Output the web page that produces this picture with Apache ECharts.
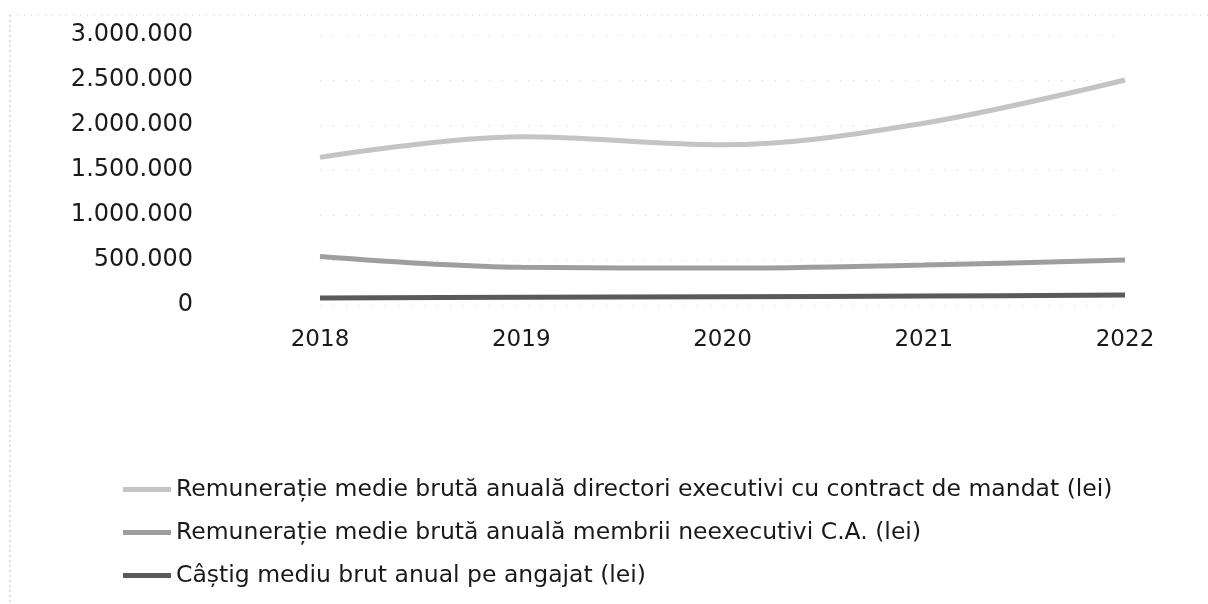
<!DOCTYPE html>
<html>
<head>
<meta charset="utf-8">
<script src="https://cdn.jsdelivr.net/npm/echarts@6/dist/echarts.min.js"></script>
<style>
  html, body { margin: 0; padding: 0; background: #fff; }
  #chart { width: 1208px; height: 604px; }
</style>
</head>
<body>
<div id="chart"></div>
<script>
// date
const years = ['2018', '2019', '2020', '2021', '2022'];
const directori = [1640000, 1870000, 1780000, 2020000, 2500000];
const membriCA = [540000, 420000, 410000, 445000, 500000];
const angajat = [78000, 85000, 92000, 100000, 110000];
const seriesNames = [
  'Remunerație medie brută anuală directori executivi cu contract de mandat (lei)',
  'Remunerație medie brută anuală membrii neexecutivi C.A. (lei)',
  'Câștig mediu brut anual pe angajat (lei)'
];
const seriesColors = ['#c4c4c4', '#9e9e9e', '#5a5a5a'];

const chart = echarts.init(document.getElementById('chart'));

// formatare cu punct la mii, ca in original
function fmt(v) {
  return String(v).replace(/\B(?=(\d{3})+(?!\d))/g, '.');
}

function mkLine(name, data, color) {
  return {
    name: name,
    type: 'line',
    data: data,
    smooth: 0.35,
    symbol: 'none',
    lineStyle: { color: color, width: 5 },
    itemStyle: { color: color }
  };
}

chart.setOption({
  backgroundColor: '#ffffff',
  animation: false,
  textStyle: { fontFamily: 'DejaVu Sans', color: '#1a1a1a' },
  grid: { left: 320, right: 83, top: 35, bottom: 299 },
  xAxis: {
    type: 'category',
    data: years,
    boundaryGap: false,
    axisLine: { show: false },
    axisTick: { show: false },
    axisLabel: { fontSize: 23, color: '#1a1a1a', margin: 24 }
  },
  yAxis: {
    type: 'value',
    min: 0,
    max: 3000000,
    interval: 500000,
    axisLine: { show: false },
    axisTick: { show: false },
    axisLabel: { fontSize: 24, color: '#1a1a1a', margin: 127, formatter: fmt },
    splitLine: { lineStyle: { color: '#d8d8d8', type: [1, 12], width: 1 } }
  },
  legend: {
    orient: 'vertical',
    left: 118,
    top: 472,
    icon: 'rect',
    itemWidth: 48,
    itemHeight: 5,
    itemGap: 18,
    textStyle: { fontSize: 23.5, color: '#1a1a1a', lineHeight: 25 },
    data: seriesNames
  },
  graphic: [
    { type: 'line', shape: { x1: 10, y1: 15, x2: 1208, y2: 15 },
      style: { stroke: '#cfcfcf', lineWidth: 1, lineDash: [1, 6] } },
    { type: 'line', shape: { x1: 10, y1: 15, x2: 10, y2: 604 },
      style: { stroke: '#bdbdbd', lineWidth: 1, lineDash: [2, 3] } }
  ],
  series: [
    mkLine(seriesNames[0], directori, seriesColors[0]),
    mkLine(seriesNames[1], membriCA, seriesColors[1]),
    mkLine(seriesNames[2], angajat, seriesColors[2])
  ]
});
</script>
</body>
</html>
